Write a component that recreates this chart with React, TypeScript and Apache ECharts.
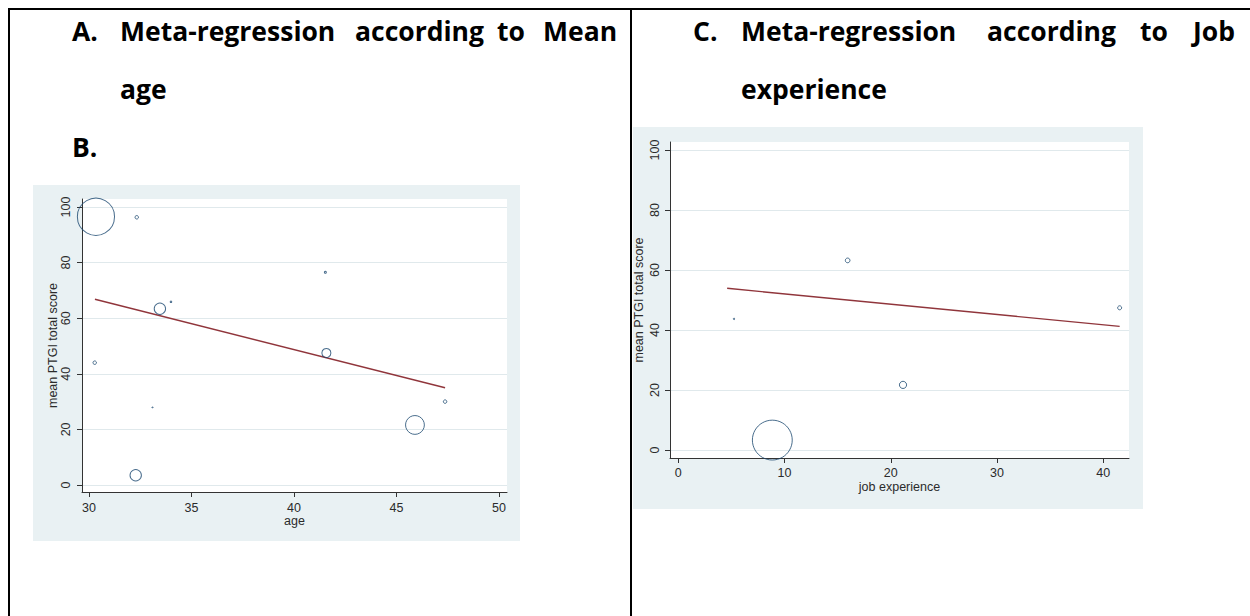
import React, { useEffect, useRef } from "react";
import * as echarts from "echarts";

// ---------- data ----------
// Panel A/B: meta-regression on mean age
const ageX = [30.34, 32.33, 41.53, 34.0, 33.46, 30.28, 41.58, 33.1, 47.37, 45.9, 32.28];
const ageScore = [96.5, 96.3, 76.5, 65.9, 63.4, 44.0, 47.5, 27.9, 30.0, 21.6, 3.5];
const ageWeight = [65.2, 0.57, 0.19, 0.11, 6.1, 0.57, 3.86, 0.05, 0.57, 16.7, 6.1];
const ageFitX = [30.29, 47.37];
const ageFitY = [66.8, 35.0];

// Panel C: meta-regression on job experience
const jobX = [8.85, 15.94, 21.15, 41.54, 5.24];
const jobScore = [3.3, 63.2, 21.7, 47.4, 43.7];
const jobWeight = [94.5, 1.3, 3.1, 0.95, 0.1];
const jobFitX = [4.6, 41.54];
const jobFitY = [53.9, 41.2];

// tick labels
const ageTicks = [30, 35, 40, 45, 50];
const jobTicks = [0, 10, 20, 30, 40];
const scoreTicks = [0, 20, 40, 60, 80, 100];

// headings
const headingLeft1 = ["A.", "Meta-regression", "according", "to", "Mean"];
const headingLeft2 = ["age"];
const headingLeft3 = ["B."];
const headingRight1 = ["C.", "Meta-regression", "according", "to", "Job"];
const headingRight2 = ["experience"];

// ---------- styles / layout ----------
const AXIS_FONT = '"Liberation Sans", Arial, sans-serif';
const HEAD_FONT = '"Open Sans", "Noto Sans", sans-serif';
const PANEL_BG = "#e9f1f3";
const GRID_LINE = "#e0e9ec";
const MARKER = "#1a476f";
const FIT = "#90353b";
const AXIS_COL = "#333333";
const LABEL_COL = "#2b2b2b";
const LABEL_FS = 12.5;
const NAME_FS = 12.5;

const leftRow1X = [72, 120, 355, 497, 543];
const rightRow1X = [693, 741, 987, 1140, 1193];
const ROW_Y = [30.5, 88.5, 146.5];

function xAxisCfg(gridIndex: number, min: number, max: number, ticks: number[], name: string, nameGap: number, margin: number) {
  return {
    type: "value",
    gridIndex,
    min,
    max,
    name,
    nameLocation: "middle",
    nameGap,
    nameMoveOverlap: false,
    nameTextStyle: { fontFamily: AXIS_FONT, fontSize: NAME_FS, color: LABEL_COL },
    axisLine: { show: true, onZero: false, lineStyle: { color: AXIS_COL, width: 1 } },
    axisTick: { show: true, length: 5, customValues: ticks, lineStyle: { color: AXIS_COL, width: 1 } },
    axisLabel: { customValues: ticks, margin, fontFamily: AXIS_FONT, fontSize: LABEL_FS, color: LABEL_COL, lineHeight: 12 },
    splitLine: { show: false },
  };
}

function yAxisCfg(gridIndex: number, min: number, max: number, nameGap: number, margin: number) {
  return {
    type: "value",
    gridIndex,
    min,
    max,
    name: "mean PTGI total score",
    nameLocation: "middle",
    nameRotate: 90,
    nameGap,
    nameMoveOverlap: false,
    nameTextStyle: { fontFamily: AXIS_FONT, fontSize: NAME_FS, color: LABEL_COL },
    axisLine: { show: true, onZero: false, lineStyle: { color: AXIS_COL, width: 1 } },
    axisTick: { show: true, length: 5, customValues: scoreTicks, lineStyle: { color: AXIS_COL, width: 1 } },
    axisLabel: { customValues: scoreTicks, rotate: 90, margin, fontFamily: AXIS_FONT, fontSize: LABEL_FS, color: LABEL_COL },
    splitLine: { show: true, lineStyle: { color: GRID_LINE, width: 1 } },
  };
}

function headText(text: string, x: number, y: number) {
  return {
    type: "text",
    x,
    y,
    z: 100,
    style: {
      text,
      fill: "#000",
      font: `bold 26.5px ${HEAD_FONT}`,
      align: "left",
      verticalAlign: "middle",
    },
  };
}

export default function App() {
  const ref = useRef<HTMLDivElement>(null);
  useEffect(() => {
    document.body.style.margin = "0";
    if (!ref.current) return;
    const chart = echarts.init(ref.current, undefined, { renderer: "svg" });

    const ageData = ageX.map((x, i) => ({ value: [x, ageScore[i]], symbolSize: Math.sqrt(ageWeight[i]) * 4.6 }));
    const jobData = jobX.map((x, i) => ({ value: [x, jobScore[i]], symbolSize: Math.sqrt(jobWeight[i]) * 4.1 }));

    const graphics: any[] = [
      // table borders
      { type: "rect", z: 50, shape: { x: 8, y: 8, width: 1242, height: 2 }, style: { fill: "#000" } },
      { type: "rect", z: 50, shape: { x: 8, y: 8, width: 2, height: 608 }, style: { fill: "#000" } },
      { type: "rect", z: 50, shape: { x: 630, y: 8, width: 2, height: 608 }, style: { fill: "#000" } },
      // graph region backgrounds
      { type: "rect", z: -10, shape: { x: 33, y: 185, width: 487, height: 356 }, style: { fill: PANEL_BG } },
      { type: "rect", z: -10, shape: { x: 633, y: 127, width: 510, height: 382 }, style: { fill: PANEL_BG } },
    ];
    headingLeft1.forEach((w, i) => graphics.push(headText(w, leftRow1X[i], ROW_Y[0])));
    headingLeft2.forEach((w) => graphics.push(headText(w, 120, ROW_Y[1])));
    headingLeft3.forEach((w) => graphics.push(headText(w, 72, ROW_Y[2])));
    headingRight1.forEach((w, i) => graphics.push(headText(w, rightRow1X[i], ROW_Y[0])));
    headingRight2.forEach((w) => graphics.push(headText(w, 741, ROW_Y[1])));

    chart.setOption({
      animation: false,
      backgroundColor: "#ffffff",
      grid: [
        { left: 82, top: 199, width: 425, height: 293, show: true, backgroundColor: "#ffffff", borderWidth: 0, containLabel: false },
        { left: 670, top: 142, width: 459, height: 316, show: true, backgroundColor: "#ffffff", borderWidth: 0, containLabel: false },
      ],
      xAxis: [
        xAxisCfg(0, 29.66, 50.39, ageTicks, "age", 22, 9.5),
        xAxisCfg(1, -0.78, 42.42, jobTicks, "job experience", 22, 9),
      ],
      yAxis: [yAxisCfg(0, -2.52, 102.88, 22.5, 9.5), yAxisCfg(1, -2.67, 102.67, 24.5, 8.5)],
      graphic: graphics,
      series: [
        {
          type: "line",
          xAxisIndex: 0,
          yAxisIndex: 0,
          data: ageFitX.map((x, i) => [x, ageFitY[i]]),
          symbol: "none",
          lineStyle: { color: FIT, width: 1.4 },
          z: 3,
        },
        {
          type: "scatter",
          xAxisIndex: 0,
          yAxisIndex: 0,
          clip: false,
          data: ageData,
          symbol: "circle",
          itemStyle: { color: "rgba(0,0,0,0)", borderColor: MARKER, borderWidth: 1 },
          z: 4,
        },
        {
          type: "line",
          xAxisIndex: 1,
          yAxisIndex: 1,
          data: jobFitX.map((x, i) => [x, jobFitY[i]]),
          symbol: "none",
          lineStyle: { color: FIT, width: 1.4 },
          z: 3,
        },
        {
          type: "scatter",
          xAxisIndex: 1,
          yAxisIndex: 1,
          clip: false,
          data: jobData,
          symbol: "circle",
          itemStyle: { color: "rgba(0,0,0,0)", borderColor: MARKER, borderWidth: 1 },
          z: 4,
        },
      ],
    });
    return () => chart.dispose();
  }, []);
  return <div ref={ref} style={{ width: 1250, height: 616 }} />;
}
